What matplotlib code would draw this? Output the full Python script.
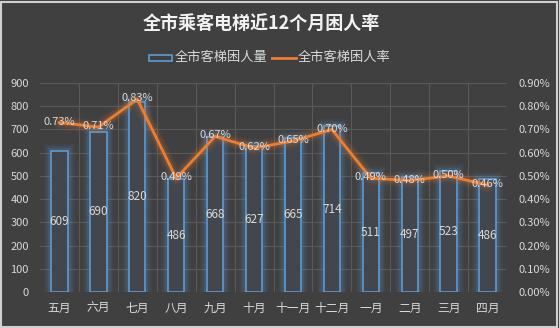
import matplotlib.pyplot as plt
from matplotlib.patches import Rectangle
from matplotlib.ticker import FuncFormatter

plt.rcParams['font.family'] = ['Noto Sans CJK SC', 'DejaVu Sans']

months = ['五月', '六月', '七月', '八月', '九月', '十月', '十一月', '十二月', '一月', '二月', '三月', '四月']
trapped = [609, 690, 820, 486, 668, 627, 665, 714, 511, 497, 523, 486]
rate = [0.73, 0.71, 0.83, 0.49, 0.67, 0.62, 0.65, 0.70, 0.49, 0.48, 0.50, 0.46]

bg = '#404040'
txt = '#d9d9d9'
blue = '#5b9bd5'
orange = '#ed7d31'

fig = plt.figure(figsize=(5.59, 3.28), dpi=100, facecolor=bg)
ax = fig.add_axes([40 / 559, 36 / 328, 467 / 559, 209 / 328])
ax.set_facecolor(bg)
ax2 = ax.twinx()

x = list(range(len(months)))

# bars: soft blue glow, then the outlined bar itself
for lw, a in [(10, 0.06), (7, 0.10), (4.5, 0.15)]:
    ax.bar(x, trapped, width=0.42, facecolor='none', edgecolor=blue, linewidth=lw, alpha=a, zorder=2)
ax.bar(x, trapped, width=0.42, facecolor='#43474d', edgecolor=blue, linewidth=1.2, zorder=3)

for i, v in enumerate(trapped):
    ax.text(i, v / 2, str(v), ha='center', va='center', color=txt, fontsize=8.5, zorder=4)

ax.set_xlim(-0.5, len(months) - 0.5)
ax.set_ylim(0, 900)
ax.set_yticks(range(0, 901, 100))
ax.set_xticks(x)
ax.set_xticklabels(months)
ax.set_xticks([i + 0.5 for i in x[:-1]], minor=True)
ax.grid(axis='y', color='#595959', linewidth=0.8)
ax.grid(axis='x', which='minor', color='#595959', linewidth=0.8)
ax.set_axisbelow(True)

# line with orange glow
for lw, a in [(10, 0.06), (7, 0.09), (4.5, 0.14)]:
    ax2.plot(x, rate, color=orange, linewidth=lw, alpha=a, solid_capstyle='round', zorder=5)
ax2.plot(x, rate, color=orange, linewidth=2, zorder=6)
for i, r in enumerate(rate):
    ax2.text(i, r + 0.004, f'{r:.2f}%', ha='center', va='center', color=txt, fontsize=8, zorder=7)

ax2.set_ylim(0, 0.9)
ax2.set_yticks([i / 10 for i in range(10)])
ax2.yaxis.set_major_formatter(FuncFormatter(lambda v, p: f'{v:.2f}%'))
ax.set_zorder(ax2.get_zorder() - 1)
ax2.patch.set_visible(False)

for a in (ax, ax2):
    for s in a.spines.values():
        s.set_visible(False)
    a.tick_params(which='both', length=0, colors=txt, labelsize=8)
ax.tick_params(axis='y', pad=8)
ax.tick_params(axis='x', pad=7, labelsize=8.5)
ax2.tick_params(axis='y', pad=8)

fig.text(0.468, 0.925, '全市乘客电梯近12个月困人率', ha='center', va='center',
         color='#f2f2f2', fontsize=13, fontweight='bold')

# legend drawn by hand
fig.patches.append(Rectangle((149 / 559, 1 - 61 / 328), 23 / 559, 6 / 328, transform=fig.transFigure,
                             facecolor='none', edgecolor=blue, linewidth=1.2))
fig.text(175 / 559, 1 - 57 / 328, '全市客梯困人量', ha='left', va='center', color=txt, fontsize=9.5)
fig.lines.append(plt.Line2D([272 / 559, 296 / 559], [1 - 58 / 328, 1 - 58 / 328], transform=fig.transFigure,
                            color=orange, linewidth=2))
fig.text(298 / 559, 1 - 57 / 328, '全市客梯困人率', ha='left', va='center', color=txt, fontsize=9.5)

# outer frame
fig.patches.append(Rectangle((0.002, 0.004), 0.994, 0.99, transform=fig.transFigure,
                             facecolor='none', edgecolor='#d0d0d0', linewidth=1.5))

fig.savefig('out.png', dpi=100, facecolor=bg)
